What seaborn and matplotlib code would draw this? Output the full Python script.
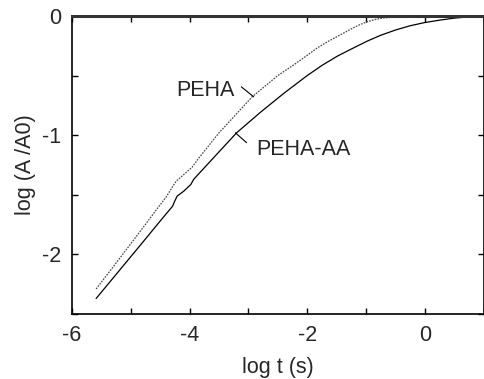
import matplotlib
matplotlib.use("Agg")
import matplotlib.pyplot as plt
import seaborn as sns
import pandas as pd
from matplotlib.ticker import MultipleLocator

# Data
peha_x = [-5.59, -5.2, -4.8, -4.52, -4.4, -4.3, -4.23, -3.96, -3.84, -3.5, -3.2, -2.94, -2.5, -2.2, -2.0, -1.82, -1.65, -1.48, -1.35, -1.2, -1.1, -0.975, -0.85, -0.7, -0.42, 0.0, 0.5, 1.0]
peha_y = [-2.29, -2.04, -1.78, -1.596, -1.52, -1.44, -1.387, -1.27, -1.19, -0.98, -0.82, -0.68, -0.50, -0.40, -0.33, -0.265, -0.215, -0.17, -0.135, -0.095, -0.072, -0.048, -0.03, -0.016, -0.006, 0.0, 0.0, 0.0]

aa_x = [-5.59, -5.2, -4.8, -4.5, -4.29, -4.25, -4.21, -4.1, -3.98, -3.93, -3.62, -3.2, -2.8, -2.4, -2.0, -1.75, -1.48, -1.2, -0.975, -0.75, -0.5, -0.25, 0.0, 0.25, 0.5, 0.75, 1.0]
aa_y = [-2.37, -2.138, -1.90, -1.72, -1.596, -1.55, -1.51, -1.47, -1.414, -1.37, -1.204, -0.98, -0.81, -0.65, -0.50, -0.415, -0.335, -0.265, -0.21, -0.162, -0.118, -0.082, -0.055, -0.035, -0.018, -0.007, 0.0]

x_ticks = [-6, -4, -2, 0]
y_ticks = [-2, -1, 0]

sns.set_style("ticks")
plt.rcParams['font.family'] = ['Liberation Sans', 'DejaVu Sans']

fig = plt.figure(figsize=(4.84, 3.79), dpi=100)
ax = fig.add_axes([0.1488, 0.1715, 0.999 - 0.1488, 0.9578 - 0.1715])

df_peha = pd.DataFrame({"x": peha_x, "y": peha_y})
df_aa = pd.DataFrame({"x": aa_x, "y": aa_y})

sns.lineplot(data=df_peha, x="x", y="y", ax=ax, color="#444444", lw=0.9,
             linestyle=(0, (1.3, 1.0)), sort=False)
sns.lineplot(data=df_aa, x="x", y="y", ax=ax, color="black", lw=0.9, sort=False)

ax.set_xlim(-6, 1)
ax.set_ylim(-2.5, 0)
ax.set_xticks(x_ticks)
ax.set_yticks(y_ticks)
ax.set_xticklabels([str(t) for t in x_ticks])
ax.set_yticklabels([str(t) for t in y_ticks])
ax.xaxis.set_minor_locator(MultipleLocator(1))
ax.yaxis.set_minor_locator(MultipleLocator(0.5))
ax.tick_params(which="both", direction="in", top=True, right=True, width=1.0,
               length=4, labelsize=15.5, pad=8, color="black")
for name, s in ax.spines.items():
    s.set_color("black")
    s.set_linewidth(1.2)
ax.spines["top"].set_linewidth(2.2)
ax.spines["top"].set_color("#333333")

ax.set_xlabel("log t (s)", fontsize=15.5, labelpad=8)
ax.set_ylabel("log (A /A0)", fontsize=15.5, labelpad=4)

ax.text(-4.23, -0.625, "PEHA", fontsize=15.5, ha="left", va="center")
ax.plot([-3.12, -2.91], [-0.594, -0.678], color="black", lw=0.8)
ax.text(-2.86, -1.12, "PEHA-AA", fontsize=15.5, ha="left", va="center")
ax.plot([-3.22, -3.03], [-0.98, -1.063], color="black", lw=0.8)

fig.savefig("out.png", dpi=100)
